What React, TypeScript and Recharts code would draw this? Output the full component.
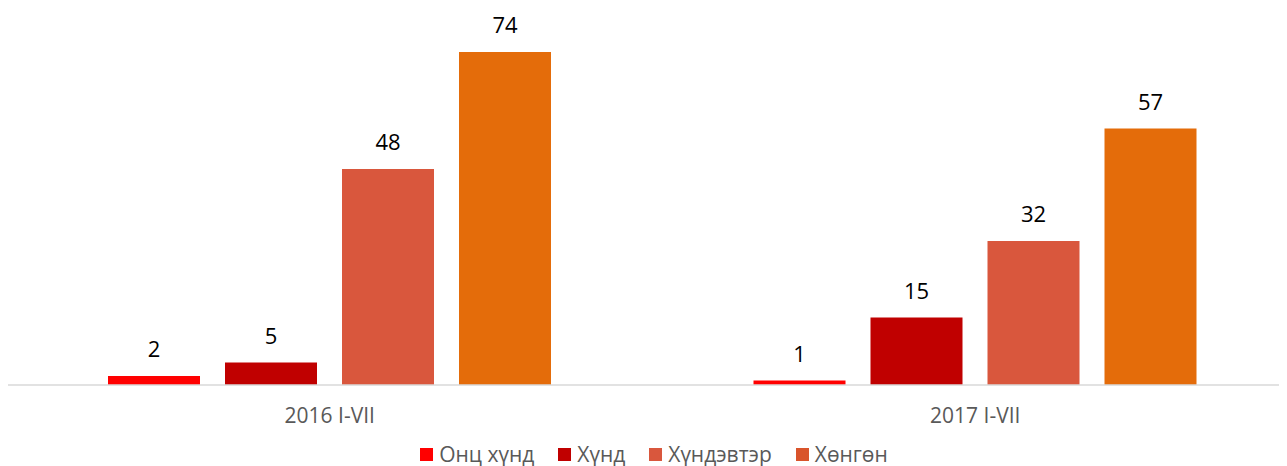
import React from "react";
import { BarChart, Bar, XAxis, YAxis, Legend, LabelList } from "recharts";

const categories = ["2016 I-VII", "2017 I-VII"];
const oncHund = [2, 1];
const hund = [5, 15];
const hundevter = [48, 32];
const hongon = [74, 57];

const seriesNames = ["Онц хүнд", "Хүнд", "Хүндэвтэр", "Хөнгөн"];
const seriesKeys = ["a", "b", "c", "d"];
const seriesColors = ["#FF0000", "#C00000", "#D9573D", "#E46C0A"];
const legendColors = ["#FF0000", "#C00000", "#D9573D", "#D9542B"];

const data = categories.map((c, i) => ({
  name: c,
  a: oncHund[i],
  b: hund[i],
  c: hundevter[i],
  d: hongon[i],
}));

const FONT = "'Open Sans', 'Liberation Sans', sans-serif";

const renderLegend = () => (
  <div
    style={{
      display: "flex",
      justifyContent: "center",
      alignItems: "center",
      height: 24,
      fontFamily: FONT,
      fontSize: 21,
      color: "#595959",
      lineHeight: "24px",
      paddingLeft: 20,
    }}
  >
    {seriesNames.map((n, i) => (
      <div key={n} style={{ display: "flex", alignItems: "center", margin: "0 12px" }}>
        <span
          style={{
            display: "inline-block",
            width: 13,
            height: 13,
            background: legendColors[i],
            marginRight: 6,
          }}
        />
        <span>{n}</span>
      </div>
    ))}
  </div>
);

export default function App() {
  return (
    <BarChart
      width={1279}
      height={458}
      data={data}
      margin={{ top: 17, right: 7, bottom: 0, left: 0 }}
      barSize={92}
      barGap={25}
    >
      <XAxis
        dataKey="name"
        tickLine={false}
        tickMargin={17}
        height={57}
        padding={{ left: -1, right: -18 }}
        axisLine={{ stroke: "#D9D9D9", strokeWidth: 1.5 }}
        tick={{ fill: "#595959", fontSize: 21, fontFamily: FONT }}
      />
      <YAxis hide domain={[0, 80]} />
      <Legend verticalAlign="bottom" content={renderLegend} />
      {seriesKeys.map((k, i) => (
        <Bar key={k} dataKey={k} name={seriesNames[i]} fill={seriesColors[i]} isAnimationActive={false}>
          <LabelList
            dataKey={k}
            position="top"
            offset={19}
            style={{ fill: "#000000", fontSize: 22, fontFamily: FONT }}
          />
        </Bar>
      ))}
    </BarChart>
  );
}
